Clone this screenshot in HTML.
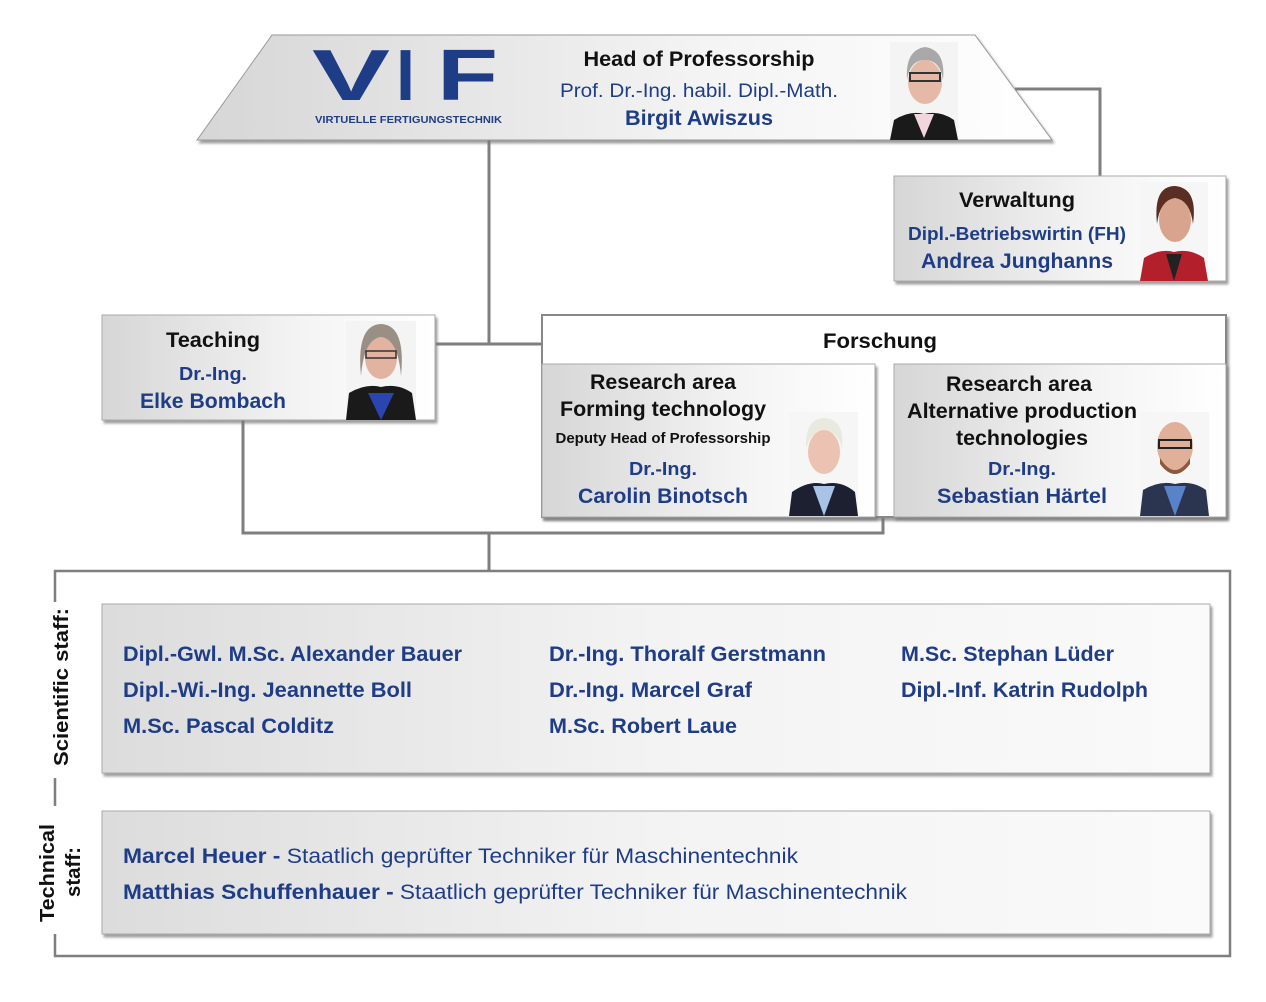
<!DOCTYPE html>
<html><head><meta charset="utf-8"><style>
html,body{margin:0;padding:0;background:#fff;width:1266px;height:1002px;overflow:hidden}
svg{display:block}
text{font-family:"Liberation Sans",sans-serif;font-weight:bold}
.b{fill:#1f3d87}
.k{fill:#111}
</style></head><body>
<svg width="1266" height="1002" viewBox="0 0 1266 1002" xmlns="http://www.w3.org/2000/svg">
<defs>
<linearGradient id="g" x1="0" y1="0" x2="1" y2="0"><stop offset="0" stop-color="#d6d6d6"/><stop offset="0.6" stop-color="#f4f4f4"/><stop offset="1" stop-color="#fff"/></linearGradient>
<linearGradient id="gt" x1="0" y1="0" x2="1" y2="0"><stop offset="0" stop-color="#dcdcdc"/><stop offset="0.5" stop-color="#f3f3f3"/><stop offset="1" stop-color="#fafafa"/></linearGradient>
<filter id="sh" x="-5%" y="-5%" width="110%" height="120%"><feDropShadow dx="2" dy="3" stdDeviation="1.2" flood-color="#777" flood-opacity="0.7"/></filter>
</defs>
<g stroke="#7f7f7f" stroke-width="3" fill="none">
<polyline points="1015,89 1100,89 1100,176"/>
<polyline points="489,140 489,344"/>
<line x1="436" y1="344" x2="542" y2="344"/>
<polyline points="243,420 243,533 883,533 883,517"/>
<line x1="489" y1="533" x2="489" y2="571"/>
<rect x="55" y="571" width="1175" height="385" stroke-width="2.5"/>
</g>
<rect x="48" y="602" width="16" height="176" fill="#fff"/>
<rect x="48" y="806" width="16" height="128" fill="#fff"/>
<text class="k" font-size="20" transform="translate(68,766) rotate(-90)" textLength="158" lengthAdjust="spacingAndGlyphs">Scientific staff:</text>
<text class="k" font-size="20" transform="translate(54,922) rotate(-90)" textLength="98" lengthAdjust="spacingAndGlyphs">Technical</text>
<text class="k" font-size="20" transform="translate(80,897) rotate(-90)" textLength="50" lengthAdjust="spacingAndGlyphs">staff:</text>

<polygon points="272,35 975,35 1052,140 197,140" fill="url(#g)" stroke="#999" stroke-width="1" filter="url(#sh)"/>
<g fill="#1f3d87" font-size="72" style="font-weight:900">
<text x="312" y="100" textLength="78" lengthAdjust="spacingAndGlyphs">V</text>
<text x="396" y="100" textLength="19" lengthAdjust="spacingAndGlyphs">I</text>
<text x="437" y="100" textLength="61" lengthAdjust="spacingAndGlyphs">F</text>
</g>
<text x="315" y="123" font-size="10" fill="#1f3d87" textLength="187" lengthAdjust="spacingAndGlyphs">VIRTUELLE FERTIGUNGSTECHNIK</text>
<text class="k" x="699" y="66" font-size="21" text-anchor="middle" textLength="231" lengthAdjust="spacingAndGlyphs">Head of Professorship</text>
<text class="b" x="699" y="97" font-size="19" text-anchor="middle" textLength="278" lengthAdjust="spacingAndGlyphs" style="font-weight:normal">Prof. Dr.-Ing. habil. Dipl.-Math.</text>
<text class="b" x="699" y="125" font-size="21" text-anchor="middle" textLength="148" lengthAdjust="spacingAndGlyphs">Birgit Awiszus</text>
<g transform="translate(890,42)">
<rect width="68" height="98" fill="#f4f4f4"/>
<path d="M0,98 L4,78 Q20,68 34,72 Q50,68 64,78 L68,98Z" fill="#1a1a1a"/>
<path d="M24,72 L34,96 L44,72Z" fill="#f2d6de"/>
<ellipse cx="35" cy="40" rx="17" ry="22" fill="#e6b9a6"/>
<path d="M17,38 Q15,8 35,5 Q56,8 53,38 Q50,18 35,18 Q20,18 17,38Z" fill="#a8a8a8"/>
<rect x="20" y="31" width="30" height="8" fill="none" stroke="#333" stroke-width="2"/>
</g>

<rect x="894" y="176" width="332" height="105" fill="url(#g)" stroke="#aaa" filter="url(#sh)"/>
<text class="k" x="1017" y="207" font-size="21" text-anchor="middle" textLength="116" lengthAdjust="spacingAndGlyphs">Verwaltung</text>
<text class="b" x="1017" y="240" font-size="18" text-anchor="middle" textLength="218" lengthAdjust="spacingAndGlyphs">Dipl.-Betriebswirtin (FH)</text>
<text class="b" x="1017" y="268" font-size="21" text-anchor="middle" textLength="192" lengthAdjust="spacingAndGlyphs">Andrea Junghanns</text>
<g transform="translate(1140,182)">
<rect width="68" height="99" fill="#f6f6f6"/>
<path d="M0,99 L4,76 Q20,66 34,70 Q50,66 64,76 L68,99Z" fill="#b3202c"/>
<path d="M26,72 L34,99 L42,72Z" fill="#222"/>
<ellipse cx="35" cy="38" rx="16" ry="22" fill="#d9a48e"/>
<path d="M17,42 Q13,4 35,4 Q58,6 53,42 Q50,18 35,16 Q20,18 17,42Z" fill="#5a2e22"/>
</g>

<rect x="102" y="315" width="333" height="105" fill="url(#g)" stroke="#aaa" filter="url(#sh)"/>
<text class="k" x="213" y="347" font-size="21" text-anchor="middle" textLength="94" lengthAdjust="spacingAndGlyphs">Teaching</text>
<text class="b" x="213" y="380" font-size="18" text-anchor="middle" textLength="68" lengthAdjust="spacingAndGlyphs">Dr.-Ing.</text>
<text class="b" x="213" y="408" font-size="21" text-anchor="middle" textLength="146" lengthAdjust="spacingAndGlyphs">Elke Bombach</text>
<g transform="translate(346,321)">
<rect width="70" height="99" fill="#f4f4f4"/>
<path d="M0,99 L3,72 Q20,62 35,66 Q52,62 66,72 L70,99Z" fill="#1a1a1a"/>
<path d="M22,72 L35,99 L48,72Z" fill="#2a45b0"/>
<ellipse cx="35" cy="37" rx="16" ry="21" fill="#e2b3a0"/>
<path d="M15,55 Q10,4 35,3 Q60,4 55,55 Q52,18 35,16 Q18,18 15,55Z" fill="#9a8f84"/>
<rect x="20" y="30" width="30" height="7" fill="none" stroke="#333" stroke-width="1.5"/>
</g>

<rect x="542" y="315" width="684" height="202" fill="#fff" stroke="#888" stroke-width="2" filter="url(#sh)"/>
<text class="k" x="880" y="348" font-size="21" text-anchor="middle" textLength="114" lengthAdjust="spacingAndGlyphs">Forschung</text>
<rect x="542" y="364" width="333" height="153" fill="url(#g)" stroke="#aaa" filter="url(#sh)"/>
<rect x="894" y="364" width="332" height="153" fill="url(#g)" stroke="#aaa" filter="url(#sh)"/>
<text class="k" x="663" y="389" font-size="21" text-anchor="middle" textLength="146" lengthAdjust="spacingAndGlyphs">Research area</text>
<text class="k" x="663" y="416" font-size="21" text-anchor="middle" textLength="206" lengthAdjust="spacingAndGlyphs">Forming technology</text>
<text class="k" x="663" y="443" font-size="15" text-anchor="middle" textLength="215" lengthAdjust="spacingAndGlyphs">Deputy Head of Professorship</text>
<text class="b" x="663" y="475" font-size="18" text-anchor="middle" textLength="68" lengthAdjust="spacingAndGlyphs">Dr.-Ing.</text>
<text class="b" x="663" y="503" font-size="21" text-anchor="middle" textLength="170" lengthAdjust="spacingAndGlyphs">Carolin Binotsch</text>
<text class="k" x="1019" y="391" font-size="21" text-anchor="middle" textLength="146" lengthAdjust="spacingAndGlyphs">Research area</text>
<text class="k" x="1022" y="418" font-size="21" text-anchor="middle" textLength="230" lengthAdjust="spacingAndGlyphs">Alternative production</text>
<text class="k" x="1022" y="445" font-size="21" text-anchor="middle" textLength="132" lengthAdjust="spacingAndGlyphs">technologies</text>
<text class="b" x="1022" y="475" font-size="18" text-anchor="middle" textLength="68" lengthAdjust="spacingAndGlyphs">Dr.-Ing.</text>
<text class="b" x="1022" y="503" font-size="21" text-anchor="middle" textLength="170" lengthAdjust="spacingAndGlyphs">Sebastian Härtel</text>
<g transform="translate(789,412)">
<rect width="69" height="104" fill="#f6f6f6"/>
<path d="M0,104 L3,80 Q20,68 35,72 Q52,68 66,80 L69,104Z" fill="#1c2030"/>
<path d="M24,74 L35,104 L46,74Z" fill="#a9c3e6"/>
<ellipse cx="35" cy="40" rx="16" ry="22" fill="#ecc2b2"/>
<path d="M17,36 Q16,6 36,6 Q56,8 53,36 Q48,18 34,18 Q22,20 17,36Z" fill="#e9e9e0"/>
</g>
<g transform="translate(1140,412)">
<rect width="69" height="104" fill="#f6f6f6"/>
<path d="M0,104 L3,78 Q20,68 35,72 Q52,68 66,78 L69,104Z" fill="#2b3550"/>
<path d="M24,74 L35,104 L46,74Z" fill="#5a82c8"/>
<ellipse cx="35" cy="34" rx="18" ry="24" fill="#e0b09a"/>
<path d="M20,46 Q35,70 50,46 L50,52 Q35,72 20,52Z" fill="#8a5a3a"/>
<rect x="19" y="28" width="32" height="8" fill="none" stroke="#222" stroke-width="2"/>
</g>

<rect x="102" y="604" width="1108" height="169" fill="url(#gt)" stroke="#aaa" filter="url(#sh)"/>
<g font-size="21">
<text class="b" x="123" y="661" textLength="339" lengthAdjust="spacingAndGlyphs">Dipl.-Gwl. M.Sc. Alexander Bauer</text>
<text class="b" x="123" y="697" textLength="289" lengthAdjust="spacingAndGlyphs">Dipl.-Wi.-Ing. Jeannette Boll</text>
<text class="b" x="123" y="733" textLength="211" lengthAdjust="spacingAndGlyphs">M.Sc. Pascal Colditz</text>
<text class="b" x="549" y="661" textLength="277" lengthAdjust="spacingAndGlyphs">Dr.-Ing. Thoralf Gerstmann</text>
<text class="b" x="549" y="697" textLength="203" lengthAdjust="spacingAndGlyphs">Dr.-Ing. Marcel Graf</text>
<text class="b" x="549" y="733" textLength="188" lengthAdjust="spacingAndGlyphs">M.Sc. Robert Laue</text>
<text class="b" x="901" y="661" textLength="213" lengthAdjust="spacingAndGlyphs">M.Sc. Stephan Lüder</text>
<text class="b" x="901" y="697" textLength="247" lengthAdjust="spacingAndGlyphs">Dipl.-Inf. Katrin Rudolph</text>
</g>

<rect x="102" y="811" width="1108" height="123" fill="url(#gt)" stroke="#aaa" filter="url(#sh)"/>
<text x="123" y="863" font-size="21" textLength="675" lengthAdjust="spacingAndGlyphs"><tspan class="b">Marcel Heuer - </tspan><tspan class="b" style="font-weight:normal">Staatlich geprüfter Techniker für Maschinentechnik</tspan></text>
<text x="123" y="899" font-size="21" textLength="784" lengthAdjust="spacingAndGlyphs"><tspan class="b">Matthias Schuffenhauer - </tspan><tspan class="b" style="font-weight:normal">Staatlich geprüfter Techniker für Maschinentechnik</tspan></text>
</svg>
</body></html>
